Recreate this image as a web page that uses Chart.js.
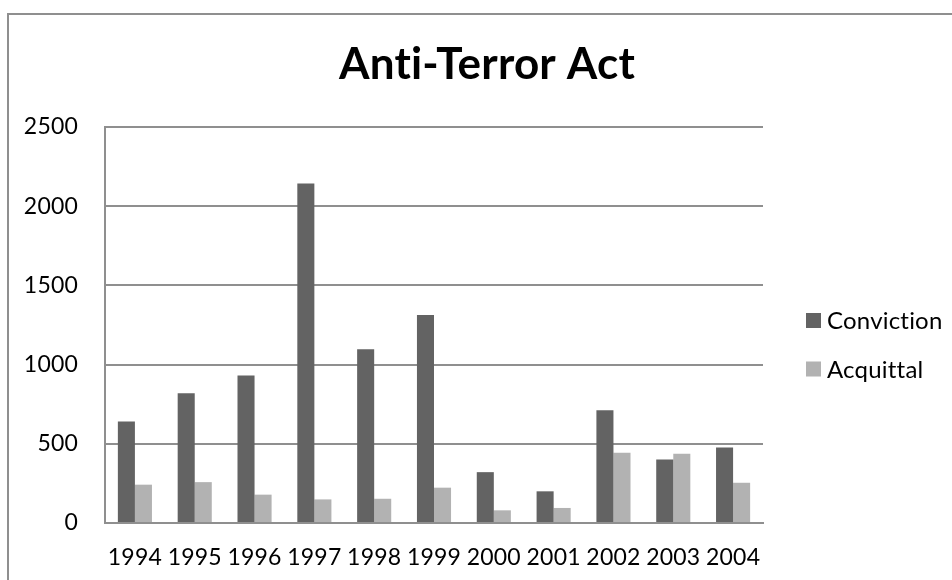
<!DOCTYPE html>
<html>
<head>
<meta charset="utf-8">
<script src="https://cdn.jsdelivr.net/npm/chart.js@4/dist/chart.umd.min.js"></script>
<style>
  html, body { margin: 0; padding: 0; background: #ffffff; }
  #wrap { position: relative; width: 952px; height: 580px; overflow: hidden; background: #ffffff; }
  #frame { position: absolute; left: 7px; top: 13px; width: 980px; height: 620px; border: 2px solid #8f8f8f; box-sizing: border-box; }
  #chart { position: absolute; left: 0; top: 0; }
</style>
</head>
<body>
<div id="wrap">
  <div id="frame"></div>
  <canvas id="chart" width="952" height="580"></canvas>
</div>
<script>
// Anti-Terror Act outcomes per year
const years = ['1994', '1995', '1996', '1997', '1998', '1999', '2000', '2001', '2002', '2003', '2004'];
const conviction = [641, 819, 931, 2143, 1097, 1313, 321, 200, 712, 401, 477];
const acquittal = [242, 258, 179, 149, 153, 223, 80, 95, 443, 437, 254];
const seriesNames = ['Conviction', 'Acquittal'];
const yTicks = [0, 500, 1000, 1500, 2000, 2500];

const FONT = 'Lato, "Open Sans", "DejaVu Sans", sans-serif';
const GRID = '#8f8f8f';

// Plain glyphs (no "ti" ligatures) for all canvas text
const plainText = {
  id: 'plainText',
  beforeDraw(chart) {
    chart.ctx.textRendering = 'optimizeSpeed';
    chart.ctx.letterSpacing = '0.2px';
  }
};

// Vertical legend drawn to the right of the plot
const sideLegend = {
  id: 'sideLegend',
  afterDraw(chart, args, opts) {
    const ctx = chart.ctx;
    ctx.save();
    ctx.font = opts.fontSize + 'px ' + FONT;
    ctx.textBaseline = 'middle';
    ctx.textAlign = 'left';
    chart.data.datasets.forEach((ds, i) => {
      const cy = opts.top + i * opts.step;
      ctx.fillStyle = ds.backgroundColor;
      ctx.fillRect(opts.x, cy - opts.box / 2, opts.box, opts.box);
      ctx.fillStyle = '#000000';
      ctx.fillText(ds.label, opts.x + opts.box + opts.gap, cy + 1);
    });
    ctx.restore();
  }
};

new Chart(document.getElementById('chart'), {
  type: 'bar',
  data: {
    labels: years,
    datasets: [
      { label: seriesNames[0], data: conviction, backgroundColor: '#636363', borderWidth: 0 },
      { label: seriesNames[1], data: acquittal, backgroundColor: '#b2b2b2', borderWidth: 0 }
    ]
  },
  options: {
    responsive: false,
    animation: false,
    devicePixelRatio: 1,
    layout: { padding: { left: 22, right: 0, top: 0, bottom: 0 } },
    datasets: { bar: { categoryPercentage: 0.57, barPercentage: 1.0 } },
    plugins: {
      legend: { display: false },
      tooltip: { enabled: false },
      title: {
        display: true,
        text: 'Anti-Terror Act',
        color: '#000000',
        font: { family: FONT, size: 44, weight: 'bold', lineHeight: 1.2 },
        padding: { top: 38.6, bottom: 35.6 }
      },
      sideLegend: { x: 806, top: 320.5, step: 48.5, box: 15, gap: 6, fontSize: 24 }
    },
    scales: {
      x: {
        grid: { display: false, drawTicks: false },
        border: { display: true, color: GRID, width: 2 },
        ticks: { color: '#000000', font: { family: FONT, size: 23 }, padding: 21, maxRotation: 0, autoSkip: false },
        afterFit(scale) { scale.height = 57; }
      },
      y: {
        min: 0,
        max: 2500,
        afterBuildTicks(scale) { scale.ticks = yTicks.map(v => ({ value: v })); },
        grid: { color: GRID, lineWidth: 2, drawTicks: false },
        border: { display: true, color: GRID, width: 2 },
        ticks: { color: '#000000', font: { family: FONT, size: 23 }, padding: 27, callback: v => String(v) },
        afterFit(scale) { scale.width = 83; }
      },
      // empty strip on the right that holds the legend
      legendSpace: {
        type: 'linear',
        position: 'right',
        display: true,
        grid: { display: false, drawTicks: false },
        border: { display: false },
        ticks: { display: false },
        afterFit(scale) { scale.width = 189; }
      }
    }
  },
  plugins: [plainText, sideLegend]
});
</script>
</body>
</html>
